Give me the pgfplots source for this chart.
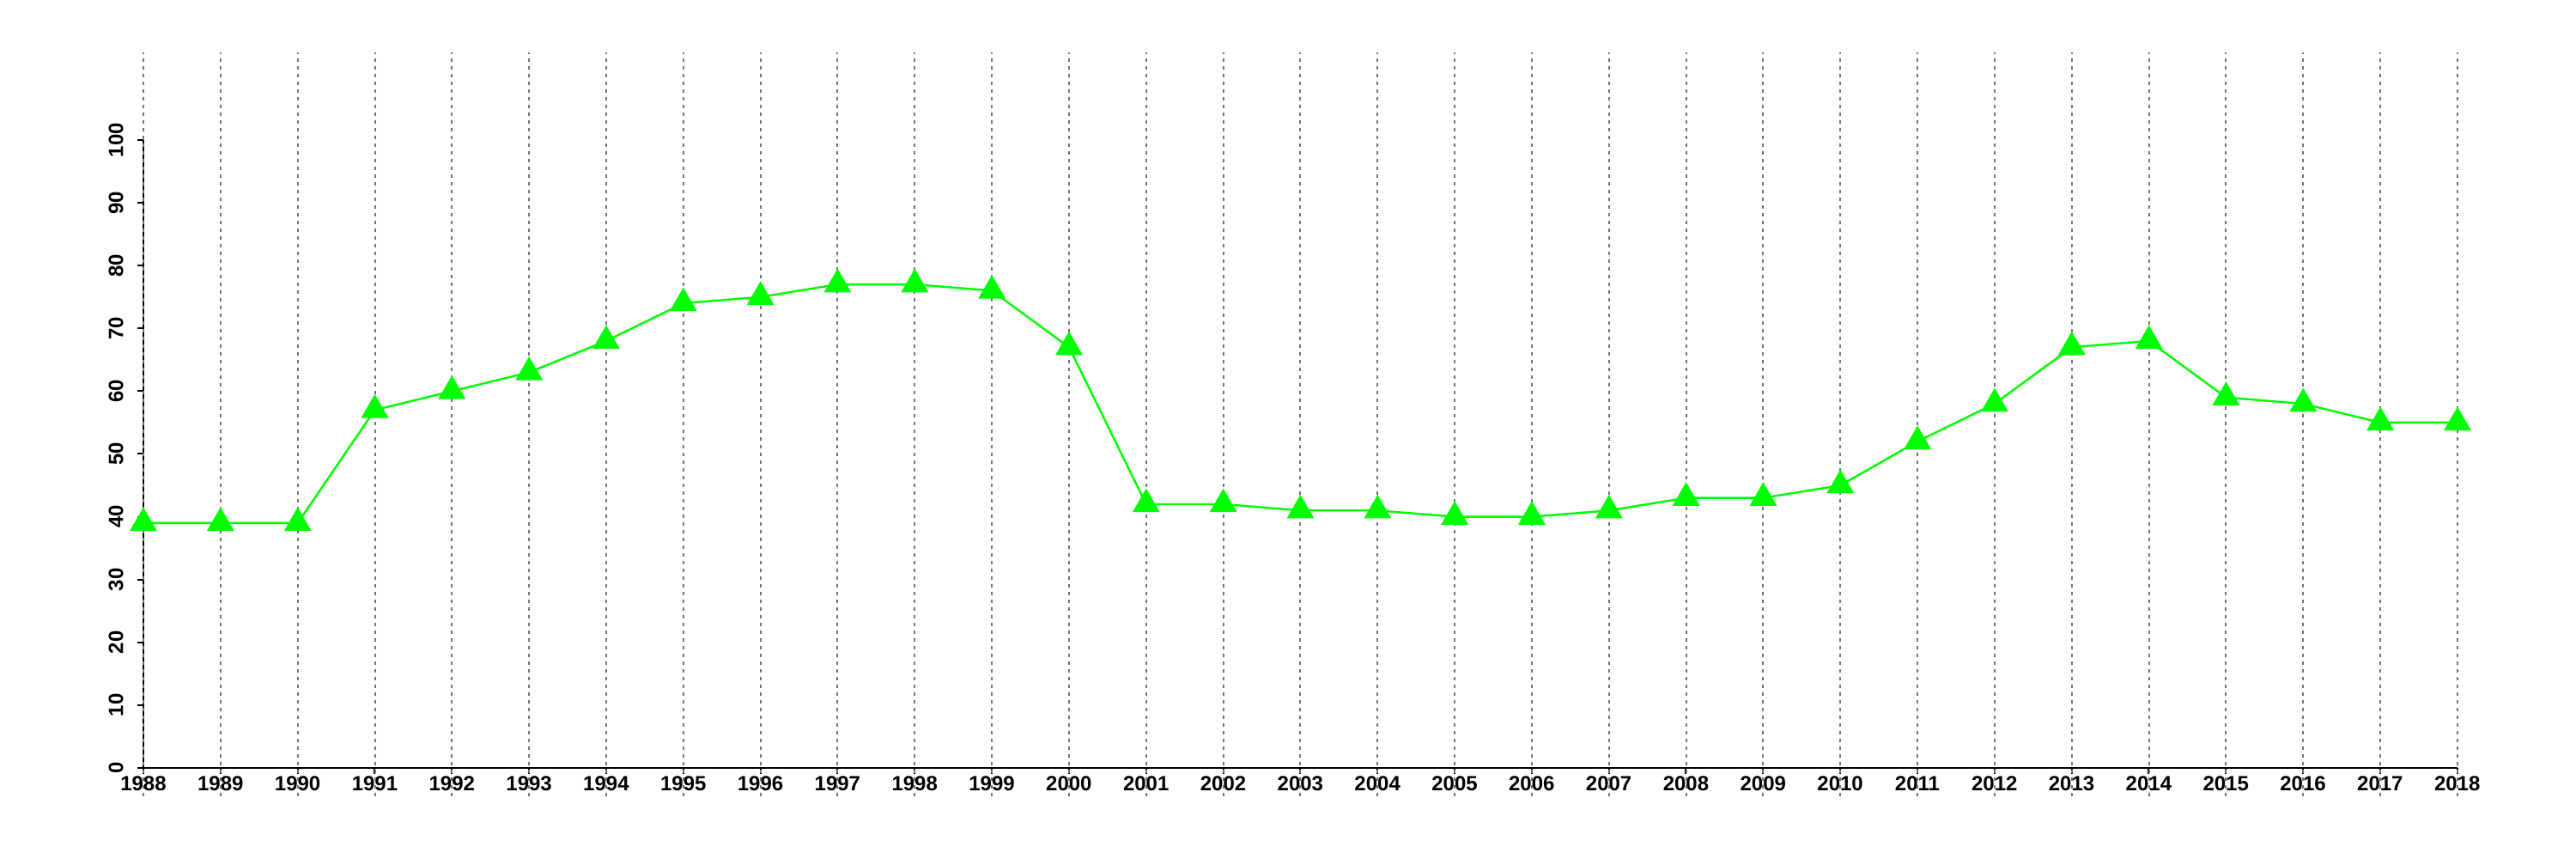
\documentclass[border=0pt]{standalone}
\usepackage{pgfplots}
\pgfplotsset{compat=1.18}
\usepackage{fontspec}
\setmainfont{Liberation Sans}
\definecolor{lime}{RGB}{0,255,0}
\definecolor{gridgray}{RGB}{115,115,115}

\pgfplotstableread{
year value
1988 39
1989 39
1990 39
1991 57
1992 60
1993 63
1994 68
1995 74
1996 75
1997 77
1998 77
1999 76
2000 67
2001 42
2002 42
2003 41
2004 41
2005 40
2006 40
2007 41
2008 43
2009 43
2010 45
2011 52
2012 58
2013 67
2014 68
2015 59
2016 58
2017 55
2018 55
}\series

\begin{document}
\begin{tikzpicture}
\useasboundingbox (0,0) rectangle (1500pt,500pt);
\begin{axis}[
    at={(83.5pt,53pt)}, anchor=south west,
    scale only axis, width=1347.5pt, height=365.5pt,
    xmin=1988, xmax=2018, ymin=0, ymax=100,
    axis x line*=bottom, axis y line*=left,
    axis line style={line width=1pt,-},
    xtick={1988,...,2018}, ytick={0,10,...,100},
    /pgf/number format/1000 sep={},
    /pgf/number format/assume math mode=true,
    tick align=outside,
    major tick length=3.5pt,
    tick style={black,line width=1pt},
    yticklabel style={rotate=90,anchor=south,inner sep=0pt,yshift=8pt},
    xticklabel style={anchor=north,inner sep=0pt,yshift=-1pt},
    ticklabel style={font=\bfseries\fontsize{12}{14}\selectfont},
    clip=false,
    ]
    \pgfplotsinvokeforeach{1988,...,2018}{
        \draw[gridgray,line width=1pt,dash pattern=on 2pt off 2.5pt] (axis cs:#1,-4.5) -- (axis cs:#1,114);
    }
    \addplot[lime,line width=1.2pt,mark=triangle*,mark size=8pt,
        mark options={draw=none,fill=lime}] table[x=year,y=value] {\series};
\end{axis}
\end{tikzpicture}
\end{document}
